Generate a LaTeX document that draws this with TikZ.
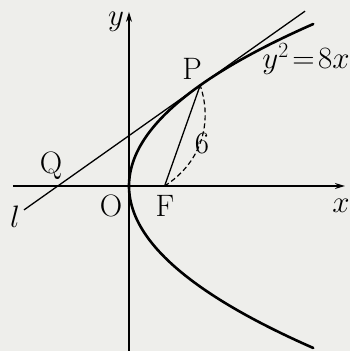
\documentclass[tikz,border=0pt]{standalone}
\usepackage{fix-cm}
\usetikzlibrary{arrows.meta}
\definecolor{paper}{RGB}{238,238,235}
\begin{document}
\begin{tikzpicture}[x=17.8pt,y=17.8pt,
  lbl/.style={inner sep=0pt,font=\fontsize{31}{36}\selectfont},
  axis/.style={line width=1.3pt},
  curve/.style={line width=2.6pt},
  tline/.style={line width=1.3pt},
  dashline/.style={line width=1.2pt,dash pattern=on 5pt off 3pt}]
\fill[paper] (-7.247,-9.270) rectangle (12.416,10.449);
\useasboundingbox (-7.247,-9.270) rectangle (12.416,10.449);
\coordinate (O) at (0,0);
\coordinate (F) at (2,0);
\coordinate (P) at (4,5.657);
\coordinate (Q) at (-4,0);
\coordinate (xs) at (-6.52,0);
\coordinate (xe) at (12.13,0);
\coordinate (ys) at (0,-9.4);
\coordinate (ye) at (0,9.78);
\coordinate (ls) at (-5.9,-1.344);
\coordinate (le) at (9.89,9.822);
% axes
\draw[axis,-{Stealth[length=10pt,width=6pt]}] (xs) -- (xe);
\draw[axis,-{Stealth[length=10pt,width=6pt]}] (ys) -- (ye);
% parabola
\draw[curve,line cap=round] plot[domain=-9.1:9.1,samples=80,smooth] ({\x*\x/8},\x);
% tangent line
\draw[tline] (ls) -- (le);
% PF
\draw[tline] (P) -- (F);
\draw[dashline] (F) to[bend right=38] (P);
% labels
\node[lbl] (ylab) at (-0.73,9.21) {$y$};
\node[lbl,anchor=east] (xlab) at (12.40,-1.12) {$x$};
\node[lbl] (Plab) at (3.54,6.57) {P};
\node[lbl] (Qlab) at (-4.38,1.12) {Q};
\node[lbl] (Olab) at (-1.01,-1.12) {O};
\node[lbl] (Flab) at (2.02,-1.12) {F};
\node[lbl] (six) at (4.10,2.36) {6};
\node[lbl] (llab) at (-6.40,-1.74) {$l$};
\node[lbl,anchor=base east] (eq) at (12.40,6.6) {$y^2\!=\!8x$};
\end{tikzpicture}
\end{document}
